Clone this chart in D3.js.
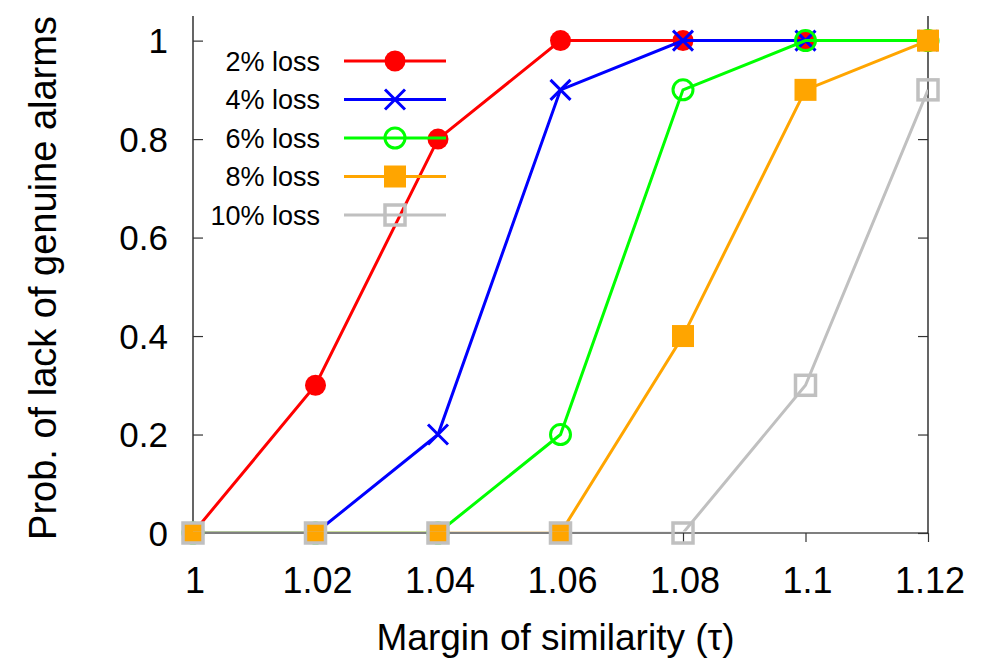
<!DOCTYPE html>
<html>
<head>
<meta charset="utf-8">
<script src="https://cdn.jsdelivr.net/npm/d3@7"></script>
<style>
  body { margin: 0; background: #fff; }
  text { font-family: "Liberation Sans", Arial, Helvetica, sans-serif; fill: #000; }
</style>
</head>
<body>
<div id="chart"></div>
<script>
// data
const taus = [1, 1.02, 1.04, 1.06, 1.08, 1.1, 1.12]
const lossLabels = ["2% loss", "4% loss", "6% loss", "8% loss", "10% loss"]
const loss2 = [0, 0.3, 0.8, 1, 1, 1, 1]
const loss4 = [0, 0, 0.2, 0.9, 1, 1, 1]
const loss6 = [0, 0, 0, 0.2, 0.9, 1, 1]
const loss8 = [0, 0, 0, 0, 0.4, 0.9, 1]
const loss10 = [0, 0, 0, 0, 0, 0.3, 0.9]
const xTicks = [1, 1.02, 1.04, 1.06, 1.08, 1.1, 1.12]
const yTicks = [0, 0.2, 0.4, 0.6, 0.8, 1]

const colors = ["#ff0000", "#0000ff", "#00ff00", "#ffa500", "#c0c0c0"]
const markers = ["dot", "cross", "circle", "square", "box"]

const series = [loss2, loss4, loss6, loss8, loss10].map((vals, i) => ({
  name: lossLabels[i], color: colors[i], marker: markers[i],
  points: vals.map((v, j) => ({ x: taus[j], y: v }))
}))

const W = 984, H = 659
const MARGIN = { LEFT: 193, RIGHT: 56, TOP: 16, BOTTOM: 126 }
const WIDTH = W - MARGIN.LEFT - MARGIN.RIGHT
const HEIGHT = H - MARGIN.TOP - MARGIN.BOTTOM

const svg = d3.select("#chart").append("svg")
  .attr("width", W)
  .attr("height", H)

const g = svg.append("g")
  .attr("transform", `translate(${MARGIN.LEFT}, ${MARGIN.TOP})`)

const x = d3.scaleLinear().domain([1, 1.12]).range([0, WIDTH])
const y = d3.scaleLinear().domain([0, 1.05]).range([HEIGHT, 0])

// clip for lines (lines lying on the border are hidden, as in the reference)
svg.append("defs").append("clipPath").attr("id", "clip")
  .append("rect").attr("x", 0).attr("y", 0).attr("width", WIDTH).attr("height", y(0) - 1.5)

// markers
function drawMarker(sel, type, color) {
  const s = 10
  if (type === "dot") {
    sel.append("circle").attr("r", s + 0.5).attr("fill", color)
  } else if (type === "cross") {
    sel.append("path").attr("d", `M${-s},${-s}L${s},${s}M${-s},${s}L${s},${-s}`)
      .attr("stroke", color).attr("stroke-width", 3).attr("fill", "none")
  } else if (type === "circle") {
    sel.append("circle").attr("r", s).attr("fill", "none")
      .attr("stroke", color).attr("stroke-width", 3)
  } else if (type === "square") {
    sel.append("rect").attr("x", -s - 1).attr("y", -s - 1).attr("width", 2 * s + 2).attr("height", 2 * s + 2)
      .attr("fill", color)
  } else if (type === "box") {
    sel.append("rect").attr("x", -s).attr("y", -s).attr("width", 2 * s).attr("height", 2 * s)
      .attr("fill", "none").attr("stroke", color).attr("stroke-width", 3.5)
  }
}

const line = d3.line().x(d => x(d.x)).y(d => y(d.y))

// border: left, bottom, right
g.append("path")
  .attr("d", `M0,0V${HEIGHT}H${WIDTH}V0`)
  .attr("fill", "none").attr("stroke", "#000").attr("stroke-width", 1.2)

// y axis left (ticks inward)
const yAxisL = d3.axisRight(y).tickValues(yTicks).tickSize(10).tickFormat("")
g.append("g").call(yAxisL).call(a => a.select(".domain").remove())
  .selectAll("line").attr("stroke", "#333").attr("stroke-width", 1.2)

// y axis right (ticks inward)
const yAxisR = d3.axisLeft(y).tickValues(yTicks).tickSize(10).tickFormat("")
g.append("g").attr("transform", `translate(${WIDTH},0)`).call(yAxisR)
  .call(a => a.select(".domain").remove())
  .selectAll("line").attr("stroke", "#333").attr("stroke-width", 1.2)

// y tick labels
g.append("g").selectAll("text").data(yTicks).enter().append("text")
  .attr("x", -25)
  .attr("y", d => y(d))
  .attr("dy", "0.36em")
  .attr("text-anchor", "end")
  .attr("font-size", "35px")
  .text(d => d3.format("")(d))

// x axis (ticks outward)
const xAxis = d3.axisBottom(x).tickValues(xTicks).tickSize(9).tickFormat("")
g.append("g").attr("transform", `translate(0,${HEIGHT})`).call(xAxis)
  .call(a => a.select(".domain").remove())
  .selectAll("line").attr("stroke", "#333").attr("stroke-width", 1.2)

g.append("g").selectAll("text").data(xTicks).enter().append("text")
  .attr("x", d => x(d) + 2)
  .attr("y", HEIGHT + 60)
  .attr("text-anchor", "middle")
  .attr("font-size", "36px")
  .text(d => d3.format("")(d))

// axis labels
svg.append("text")
  .attr("x", MARGIN.LEFT + WIDTH / 2 - 5)
  .attr("y", 650)
  .attr("text-anchor", "middle")
  .attr("font-size", "37px")
  .text("Margin of similarity (τ)")

svg.append("text")
  .attr("transform", `translate(56, ${MARGIN.TOP + 262}) rotate(-90)`)
  .attr("text-anchor", "middle")
  .attr("font-size", "38px")
  .text("Prob. of lack of genuine alarms")

// series lines and points
const plot = g.append("g")
series.forEach(s => {
  plot.append("path")
    .datum(s.points)
    .attr("clip-path", "url(#clip)")
    .attr("d", line)
    .attr("fill", "none")
    .attr("stroke", s.color)
    .attr("stroke-width", 3)
  plot.selectAll(null).data(s.points).enter().append("g")
    .attr("transform", d => `translate(${x(d.x)},${y(d.y)})`)
    .each(function () { drawMarker(d3.select(this), s.marker, s.color) })
})

// legend
const legend = svg.append("g")
series.forEach((s, i) => {
  const ly = 61 + i * 38.5
  legend.append("text")
    .attr("x", 320).attr("y", ly).attr("dy", "0.36em")
    .attr("text-anchor", "end").attr("font-size", "27px")
    .text(s.name)
  legend.append("line")
    .attr("x1", 344).attr("x2", 446).attr("y1", ly).attr("y2", ly)
    .attr("stroke", s.color).attr("stroke-width", 3)
  drawMarker(legend.append("g").attr("transform", `translate(395,${ly})`), s.marker, s.color)
})
</script>
</body>
</html>
